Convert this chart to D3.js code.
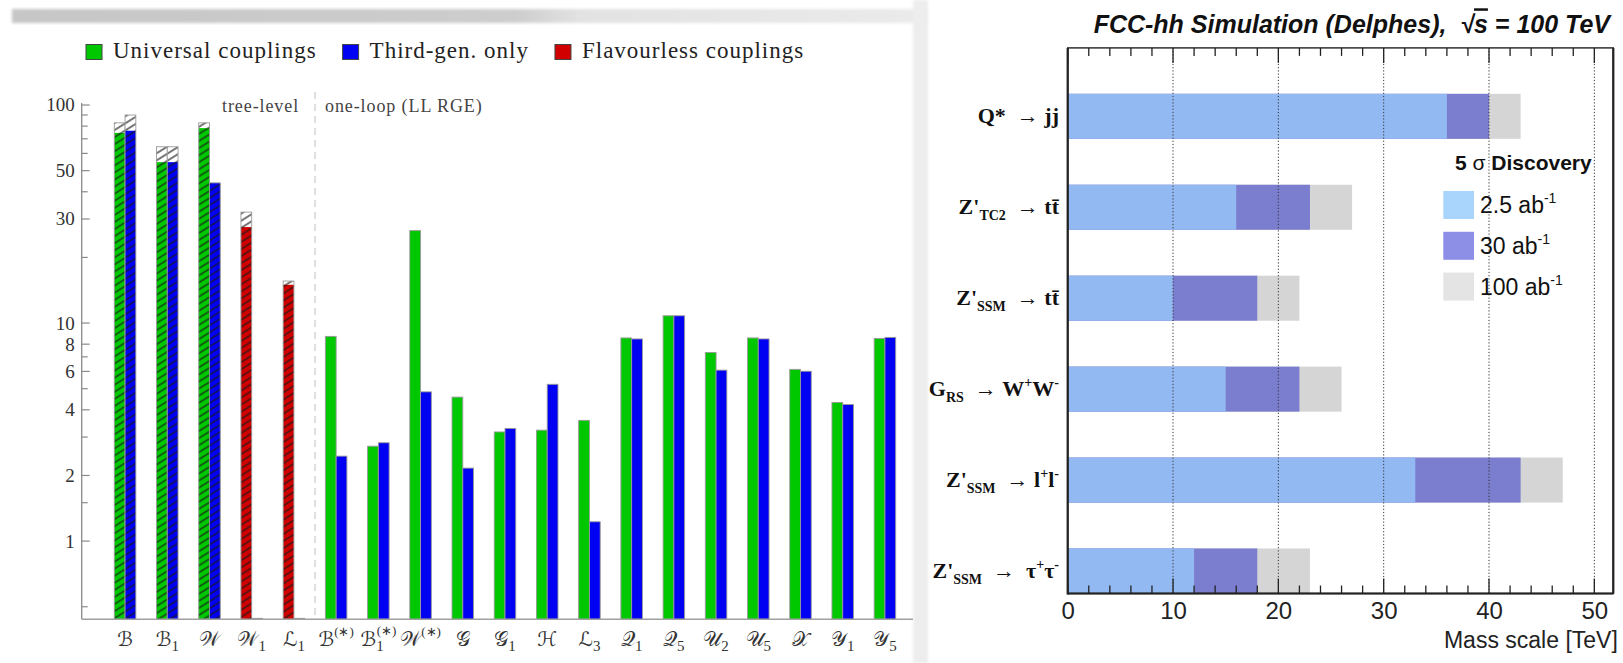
<!DOCTYPE html>
<html>
<head>
<meta charset="utf-8">
<script src="https://cdn.jsdelivr.net/npm/d3@7"></script>
<style>
  body { margin: 0; background: #fff; }
  svg { display: block; }
</style>
</head>
<body>
<svg id="chart" width="1623" height="663"></svg>
<script>
// ---- left panel: limits per mediator (log scale) ----
const categories = ["B", "B1", "W", "W1", "L1", "B*", "B1*", "W*", "G", "G1", "H", "L3", "Q1", "Q5", "U2", "U5", "X", "Y1", "Y5"];
const catLetters = ["ℬ", "ℬ", "𝒲", "𝒲", "ℒ", "ℬ", "ℬ", "𝒲", "𝒢", "𝒢", "ℋ", "ℒ", "𝒬", "𝒬", "𝒰", "𝒰", "𝒳", "𝒴", "𝒴"];
const catSubs = ["", "1", "", "1", "1", "", "1", "", "", "1", "", "3", "1", "5", "2", "5", "", "1", "5"];
const catSups = ["", "", "", "", "", "(∗)", "(∗)", "(∗)", "", "", "", "", "", "", "", "", "", "", ""];
const treeLevelCount = 5;

const universal      = [74.1, 54.4, 77.9, null, null, 8.64, 2.71, 26.4, 4.55, 3.15, 3.21, 3.56, 8.50, 10.74, 7.29, 8.50, 6.10, 4.30, 8.45];
const universalUpper = [82.4, 64.0, 82.4, null, null, null, null, null, null, null, null, null, null, null, null, null, null, null, null];
const thirdGen       = [75.8, 54.4, 43.7, 0.44, 0.44, 2.44, 2.81, 4.81, 2.15, 3.27, 5.21, 1.22, 8.41, 10.74, 6.05, 8.41, 5.98, 4.21, 8.55];
const thirdGenUpper  = [89.5, 64.0, null, null, null, null, null, null, null, null, null, null, null, null, null, null, null, null, null];
const flavourless      = [null, null, null, 27.4, 14.9, null, null, null, null, null, null, null, null, null, null, null, null, null, null];
const flavourlessUpper = [null, null, null, 32.1, 15.5, null, null, null, null, null, null, null, null, null, null, null, null, null, null];

const legendNames = ["Universal couplings", "Third-gen. only", "Flavourless couplings"];
const yTicks = [1, 2, 4, 6, 8, 10, 30, 50, 100];
const yMinorTicks = [0.5, 1.5, 3, 5, 7, 20, 40, 60, 70, 80, 90];

// ---- right panel: FCC-hh discovery reach ----
const processes = [
  [["Q*", "m"], ["  → ", "a"], ["jj", "m"]],
  [["Z'", "m"], ["TC2", "sub"], ["  → ", "a"], ["tt\u0304", "m"]],
  [["Z'", "m"], ["SSM", "sub"], ["  → ", "a"], ["tt\u0304", "m"]],
  [["G", "m"], ["RS", "sub"], ["  → ", "a"], ["W", "m"], ["+", "sup"], ["W", "m"], ["-", "sup"]],
  [["Z'", "m"], ["SSM", "sub"], ["  → ", "a"], ["l", "m"], ["+", "sup"], ["l", "m"], ["-", "sup"]],
  [["Z'", "m"], ["SSM", "sub"], ["  →  ", "a"], ["τ", "m"], ["+", "sup"], ["τ", "m"], ["-", "sup"]]
];
const lumi25 = [36, 16, 10, 15, 33, 12];
const lumi30 = [40, 23, 18, 22, 43, 18];
const lumi100 = [43, 27, 22, 26, 47, 23];
const lumiNames = ["2.5 ab", "30 ab", "100 ab"];
const massTicks = [0, 10, 20, 30, 40, 50];

const serif = "'Liberation Serif', 'Times New Roman', serif";
const sans = "'Liberation Sans', Arial, sans-serif";
const scriptFont = "'DejaVu Serif', 'DejaVu Sans', 'Noto Sans', serif";
const green = "#00c800", blue = "#0000f2", red = "#d00000";

const svg = d3.select("#chart");
const defs = svg.append("defs");

// scan leftovers: blurry strip on top, grey gutter between the panels
const band = defs.append("linearGradient").attr("id", "band");
[[0, "#c6c6c6"], [0.55, "#cdcdcd"], [0.62, "#e2e2e2"], [1, "#eaeaea"]]
  .forEach(([o, c]) => band.append("stop").attr("offset", o).attr("stop-color", c));
defs.append("filter").attr("id", "blur").append("feGaussianBlur").attr("stdDeviation", 1.5);
svg.append("rect").attr("x", 12).attr("y", 9).attr("width", 915).attr("height", 14)
  .attr("fill", "url(#band)").attr("filter", "url(#blur)");
svg.append("rect").attr("x", 913).attr("y", 0).attr("width", 15).attr("height", 663)
  .attr("fill", "#ededed").attr("filter", "url(#blur)");

defs.append("pattern").attr("id", "hatch").attr("patternUnits", "userSpaceOnUse")
  .attr("width", 10).attr("height", 6).attr("patternTransform", "rotate(-32)")
  .append("line").attr("x1", 0).attr("x2", 10).attr("y1", 3).attr("y2", 3)
  .attr("stroke", "#1a1a1a").attr("stroke-width", 1.2);

// ================= left panel =================
const xL = d3.scaleBand().domain(categories).range([114.3, 895.7]).paddingInner(0.49);
const xSub = d3.scaleBand().domain([0, 1]).range([0, xL.bandwidth()]);
const yL = d3.scaleLog().domain([1, 100]).range([540.6, 104.5]);
const yBase = 619.3;

// legend
const lg = svg.append("g").attr("font-family", serif).attr("font-size", 23).attr("letter-spacing", 1).attr("fill", "#222");
let lx = 86;
legendNames.forEach((name, i) => {
  lg.append("rect").attr("x", lx).attr("y", 44.5).attr("width", 16).attr("height", 15)
    .attr("fill", [green, blue, red][i]).attr("stroke", "#444").attr("stroke-width", 1);
  const t = lg.append("text").attr("x", lx + 27).attr("y", 57.5).text(name);
  lx += 27 + t.node().getComputedTextLength() + 26;
});

// bars
const barsL = [];
categories.forEach((c, i) => {
  const isUni = universal[i] != null;
  barsL.push({ c, slot: 0, v: isUni ? universal[i] : flavourless[i],
    up: isUni ? universalUpper[i] : flavourlessUpper[i], color: isUni ? green : red, hatch: i < treeLevelCount });
  barsL.push({ c, slot: 1, v: thirdGen[i], up: thirdGenUpper[i], color: blue, hatch: i < treeLevelCount });
});

const gB = svg.append("g");
barsL.forEach(b => {
  const x = xL(b.c) + xSub(b.slot), w = xSub.bandwidth(), yv = yL(b.v);
  if (b.up) {
    const yu = yL(b.up);
    gB.append("rect").attr("x", x).attr("y", yu).attr("width", w).attr("height", yv - yu).attr("fill", "#fff");
    gB.append("rect").attr("x", x).attr("y", yu).attr("width", w).attr("height", yv - yu).attr("fill", "url(#hatch)");
  }
  gB.append("rect").attr("x", x).attr("y", yv).attr("width", w).attr("height", yBase - yv).attr("fill", b.color);
  if (b.hatch) {
    gB.append("rect").attr("x", x).attr("y", yv).attr("width", w).attr("height", yBase - yv).attr("fill", "url(#hatch)");
  }
  const top = b.up ? yL(b.up) : yv;
  gB.append("rect").attr("x", x).attr("y", top).attr("width", w).attr("height", yBase - top)
    .attr("fill", "none").attr("stroke", "#9a9a9a").attr("stroke-width", 0.9);
});

// axes
const axL = svg.append("g").attr("transform", "translate(81.7,0)")
  .call(d3.axisLeft(yL).tickValues(yTicks).tickFormat(d3.format("d")).tickSize(-8).tickPadding(7));
axL.select(".domain").remove();
axL.selectAll("line").attr("stroke", "#8a8a8a").attr("stroke-width", 1.2);
axL.selectAll("text").attr("font-family", serif).attr("font-size", 19).attr("fill", "#333").attr("dy", "0.34em");
const axLm = svg.append("g").attr("transform", "translate(81.7,0)")
  .call(d3.axisLeft(yL).tickValues(yMinorTicks).tickFormat(() => "").tickSize(-6));
axLm.select(".domain").remove();
axLm.selectAll("line").attr("stroke", "#8a8a8a").attr("stroke-width", 1.2);
svg.append("line").attr("x1", 81.7).attr("x2", 81.7).attr("y1", 103).attr("y2", yBase)
  .attr("stroke", "#8a8a8a").attr("stroke-width", 1.3);
svg.append("line").attr("x1", 81.7).attr("x2", 913).attr("y1", yBase).attr("y2", yBase)
  .attr("stroke", "#a0a0a0").attr("stroke-width", 1.6);

// tree-level / one-loop separator
const sepX = (xL(categories[treeLevelCount - 1]) + xL.bandwidth() + xL(categories[treeLevelCount])) / 2;
svg.append("line").attr("x1", sepX).attr("x2", sepX).attr("y1", 92).attr("y2", yBase)
  .attr("stroke", "#c0c0c0").attr("stroke-width", 1).attr("stroke-dasharray", "7,5");
svg.append("text").attr("x", sepX - 16).attr("y", 112).attr("text-anchor", "end")
  .attr("font-family", serif).attr("font-size", 18).attr("letter-spacing", 0.9).attr("fill", "#444").text("tree-level");
svg.append("text").attr("x", sepX + 10).attr("y", 112)
  .attr("font-family", serif).attr("font-size", 18).attr("letter-spacing", 0.9).attr("fill", "#444").text("one-loop (LL RGE)");

// category labels
const gx = svg.append("g").attr("font-family", scriptFont).attr("fill", "#333");
categories.forEach((c, i) => {
  const t = gx.append("text").attr("x", xL(c) + xL.bandwidth() / 2).attr("y", 646)
    .attr("text-anchor", "middle").attr("font-size", 20);
  t.append("tspan").text(catLetters[i]);
  if (catSubs[i]) t.append("tspan").attr("font-family", serif).attr("font-size", 15).attr("dy", 5).text(catSubs[i]);
  if (catSups[i]) t.append("tspan").attr("font-family", serif).attr("font-size", 13)
    .attr("dx", catSubs[i] ? -7 : 0).attr("dy", catSubs[i] ? -16 : -10).text(catSups[i]);
});

// clipped remains of the rotated y title
defs.append("clipPath").attr("id", "ytclip").append("rect").attr("x", 8).attr("y", 300).attr("width", 11).attr("height", 70);
svg.append("text").attr("clip-path", "url(#ytclip)").attr("transform", "translate(24,333) rotate(-90)")
  .attr("text-anchor", "middle").attr("font-family", serif).attr("font-size", 18).attr("fill", "#333").text("Λ [TeV]");

// ================= right panel =================
const xR = d3.scaleLinear().domain([0, 51.8]).range([1067.7, 1613.3]);
const yR = d3.scaleBand().domain(d3.range(processes.length)).range([47.9, 593.5]);
const barTop = i => yR(i) + yR.bandwidth() * 0.505;
const barH = yR.bandwidth() * 0.495;
const yTop = yR.range()[0], yBot = yR.range()[1];

const lumiColors = ["#93b9f3", "#7b7dce", "#d5d5d5"];
const lumiLegendColors = ["#a9d4fb", "#8d8ee6", "#e4e4e4"];

const gR = svg.append("g");
[lumi100, lumi30, lumi25].forEach((series, k) => {
  gR.selectAll(null).data(series).join("rect")
    .attr("x", xR(0)).attr("y", (d, i) => barTop(i))
    .attr("width", d => xR(d) - xR(0)).attr("height", barH)
    .attr("fill", lumiColors[2 - k]);
});

// legend
const lgR = svg.append("g").attr("font-family", sans).attr("fill", "#111");
const dTitle = lgR.append("text").attr("x", 1591.7).attr("y", 170).attr("text-anchor", "end")
  .attr("font-size", 21).attr("font-weight", "bold").style("white-space", "pre");
dTitle.append("tspan").text("5 ");
dTitle.append("tspan").attr("font-weight", "normal").text("σ");
dTitle.append("tspan").text(" Discovery");
lumiNames.forEach((name, k) => {
  const yy = 191 + k * 40.8;
  lgR.append("rect").attr("x", 1443.3).attr("y", yy).attr("width", 30.7).attr("height", 28).attr("fill", lumiLegendColors[k]);
  const t = lgR.append("text").attr("x", 1480).attr("y", yy + 22).attr("font-size", 23);
  t.append("tspan").text(name);
  t.append("tspan").attr("font-size", 14).attr("dy", -10).text("-1");
});

// grid (drawn over the bars, as in the original)
gR.selectAll(null).data(massTicks.filter(d => d > 0)).join("line")
  .attr("x1", d => xR(d)).attr("x2", d => xR(d)).attr("y1", yTop).attr("y2", yBot)
  .attr("stroke", "#333").attr("stroke-width", 1).attr("stroke-dasharray", "1.2,2");

// ticks top and bottom
const minor = d3.range(0, 52, 2);
[[yBot, -1], [yTop, 1]].forEach(([y0, dir]) => {
  gR.append("g").selectAll("line").data(minor).join("line")
    .attr("x1", d => xR(d)).attr("x2", d => xR(d)).attr("y1", y0)
    .attr("y2", d => y0 + dir * (d % 10 === 0 ? 15 : 8))
    .attr("stroke", "#222").attr("stroke-width", 1.3);
});

// frame
gR.append("rect").attr("x", xR(0)).attr("y", yTop).attr("width", xR.range()[1] - xR(0)).attr("height", yBot - yTop)
  .attr("fill", "none").attr("stroke", "#222").attr("stroke-width", 1.4);
gR.append("line").attr("x1", xR(0)).attr("x2", xR(0)).attr("y1", yTop).attr("y2", yBot + 1).attr("stroke", "#222").attr("stroke-width", 2.2);
gR.append("line").attr("x1", xR(0)).attr("x2", xR.range()[1]).attr("y1", yBot).attr("y2", yBot).attr("stroke", "#222").attr("stroke-width", 2.2);
gR.append("line").attr("x1", xR.range()[1]).attr("x2", xR.range()[1]).attr("y1", yTop).attr("y2", yBot).attr("stroke", "#222").attr("stroke-width", 2.2);

const axR = svg.append("g").attr("transform", `translate(0,${yBot})`)
  .call(d3.axisBottom(xR).tickValues(massTicks).tickSize(0).tickPadding(8));
axR.select(".domain").remove();
axR.selectAll("text").attr("font-family", sans).attr("font-size", 24).attr("fill", "#222");

svg.append("text").attr("x", 1617.8).attr("y", 648).attr("text-anchor", "end")
  .attr("font-family", sans).attr("font-size", 23).attr("fill", "#222").text("Mass scale [TeV]");

// title
const title = svg.append("text").attr("x", 1610).attr("y", 33.3).attr("text-anchor", "end")
  .attr("font-family", sans).attr("font-size", 25).attr("font-weight", "bold").attr("font-style", "italic")
  .attr("fill", "#111").style("white-space", "pre");
title.append("tspan").text("FCC-hh Simulation (Delphes),  √");
title.append("tspan").style("text-decoration", "overline").text("s");
title.append("tspan").text(" = 100 TeV");

// process labels
const gl = svg.append("g").attr("font-family", serif).attr("font-weight", "bold").attr("fill", "#111");
processes.forEach((pieces, i) => {
  const t = gl.append("text").attr("x", 1059).attr("y", barTop(i) + barH / 2 + 7)
    .attr("text-anchor", "end").attr("font-size", 22).style("white-space", "pre");
  let shift = 0;
  pieces.forEach(([txt, kind]) => {
    const target = kind === "sub" ? 6 : kind === "sup" ? -9 : 0;
    const s = t.append("tspan").attr("dy", target - shift).text(txt);
    if (kind === "sub" || kind === "sup") s.attr("font-size", 14);
    if (kind === "a") s.attr("font-weight", "normal");
    shift = target;
  });
});
</script>
</body>
</html>
